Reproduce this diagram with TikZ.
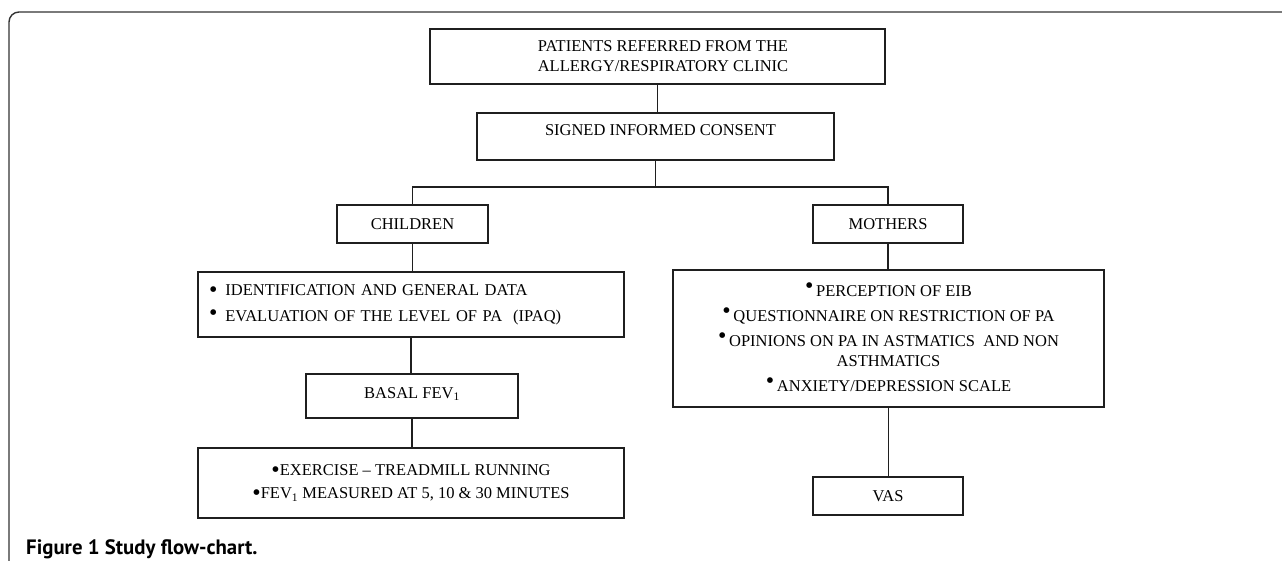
\documentclass[tikz,border=0pt]{standalone}
\usepackage{fontspec}
\usepackage{graphicx}
\setmainfont{Liberation Serif}
\newfontfamily\capfont{PT Sans}
\newcommand{\bigbul}{\raisebox{-0.13em}[0pt][0pt]{\scalebox{1.45}{\textbullet}}}
\newcommand{\midbul}{\raisebox{0.02em}[0pt][0pt]{\scalebox{1.45}{\textbullet}}}
\newcommand{\upbul}{\raisebox{0.2em}[0pt][0pt]{\scalebox{1.45}{\textbullet}}}
\tikzset{
  box/.style={draw=black!88, line width=2pt, inner sep=0pt, align=center,
    font=\fontsize{16.5pt}{20pt}\selectfont},
  link/.style={draw=black!88, line width=1.8pt},
  frame/.style={draw=black!80, line width=1.4pt, rounded corners=10pt},
}
\begin{document}
\begin{tikzpicture}[x=1pt,y=-1pt]
\useasboundingbox (0,0) rectangle (1282,560);
\draw[frame] (1290,12) -- (9,12) -- (9,570);

\node[box, minimum width=455pt, minimum height=55pt] (top) at (657.5,56.5)
  {\hspace{11pt}PATIENTS REFERRED FROM THE\\\hspace{11pt}ALLERGY/RESPIRATORY CLINIC};
\node[box, minimum width=357pt, minimum height=47pt] (consent) at (655.5,136.5)
  {\raisebox{6.5pt}[\height][\depth]{\hspace{10pt}SIGNED INFORMED CONSENT}};
\node[box, minimum width=151pt, minimum height=38pt] (children) at (412.5,224) {CHILDREN};
\node[box, minimum width=150pt, minimum height=38pt] (mothers) at (888,224) {MOTHERS};
\node[box, minimum height=65pt, text width=404pt, inner xsep=11pt, align=left] (ident) at (411,304.5)
  {\bigbul\hspace{8pt}IDENTIFICATION AND GENERAL DATA\\[6pt]
   \midbul\hspace{8pt}EVALUATION OF THE LEVEL OF PA~ (IPAQ)};
\node[box, minimum width=212pt, minimum height=44pt] (basal) at (412,396)
  {\raisebox{2pt}[\height][\depth]{BASAL FEV\textsubscript{1}}};
\node[box, minimum width=426pt, minimum height=70pt] (exercise) at (411,483)
  {\bigbul EXERCISE -- TREADMILL RUNNING\\[3pt]
   \bigbul FEV\textsubscript{1} MEASURED AT 5, 10 \& 30 MINUTES};
\node[box, minimum width=431pt, minimum height=137pt] (mlist) at (888.5,338.5)
  {\upbul\,PERCEPTION OF EIB\\[5pt]
   \upbul\,QUESTIONNAIRE ON RESTRICTION OF PA\\[5pt]
   \upbul\,OPINIONS ON PA IN ASTMATICS~ AND NON\\
   ASTHMATICS\\[5pt]
   \upbul\,ANXIETY/DEPRESSION SCALE};
\node[box, minimum width=150pt, minimum height=38pt] (vas) at (888,496) {VAS};

\coordinate (bl) at (412.5,187);
\coordinate (br) at (888,187);
\draw[link] (top.south) -- (top.south |- consent.north);
\draw[link] (consent.south) -- (consent.south |- bl);
\draw[link] (children.north) -- (bl) -- (br) -- (mothers.north);
\draw[link] (children.south) -- (children.south |- ident.north);
\draw[link] (ident.south) -- (ident.south |- basal.north);
\draw[link] (basal.south) -- (basal.south |- exercise.north);
\draw[link] (mothers.south) -- (mothers.south |- mlist.north);
\draw[link] (mlist.south) -- (mlist.south |- vas.north);

\node[anchor=base west, inner sep=0pt, font=\capfont\bfseries\fontsize{20.8pt}{22pt}\selectfont] (caption) at (26,554)
  {Figure 1 Study flow-chart.};
\end{tikzpicture}
\end{document}
